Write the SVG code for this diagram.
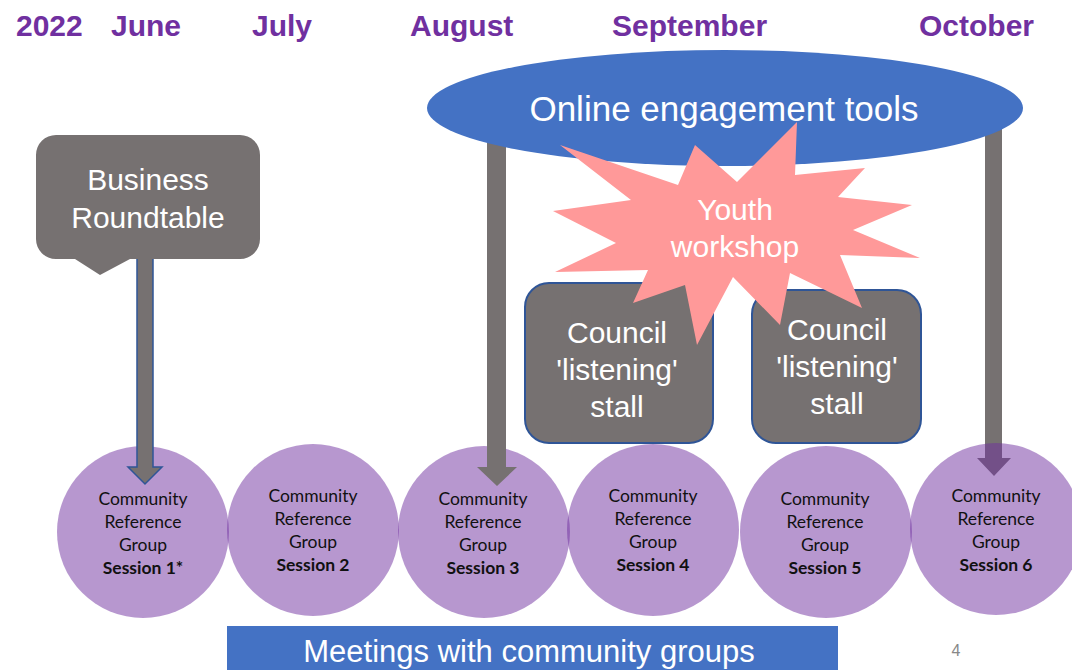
<svg xmlns="http://www.w3.org/2000/svg" width="1072" height="670" viewBox="0 0 1072 670">
  <style>
    .month { font-family: "Liberation Sans", Arial, sans-serif; font-weight: bold; font-size: 30px; fill: #7030A0; }
    .big { font-family: "Liberation Sans", Arial, sans-serif; font-size: 30px; fill: #FFFFFF; text-anchor: middle; }
    .crg { fill: #7030A0; fill-opacity: 0.5; }
    .crgt { font-family: Lato, "Open Sans", sans-serif; font-size: 17.5px; fill: #111111; text-anchor: middle; }
    .crgt .b { font-weight: bold; }
    .box { fill: #767171; stroke: #2F5597; stroke-width: 2; }
    .shaft { fill: #767171; }
  </style>

  <rect width="1072" height="670" fill="#FFFFFF"/>

  <!-- timeline header -->
  <g id="header">
    <text class="month" x="16" y="36">2022</text>
    <text class="month" x="111" y="36">June</text>
    <text class="month" x="252" y="36">July</text>
    <text class="month" x="410" y="36">August</text>
    <text class="month" x="612" y="36">September</text>
    <text class="month" x="919" y="36">October</text>
  </g>

  <!-- reference group sessions 1-5 -->
  <g id="session1">
    <circle class="crg" cx="143" cy="532" r="86"/>
    <text class="crgt"><tspan x="143" y="505">Community</tspan><tspan x="143" y="528">Reference</tspan><tspan x="143" y="551">Group</tspan><tspan class="b" x="143" y="574">Session 1*</tspan></text>
  </g>
  <g id="session2">
    <circle class="crg" cx="313" cy="530" r="86"/>
    <text class="crgt"><tspan x="313" y="502">Community</tspan><tspan x="313" y="525">Reference</tspan><tspan x="313" y="548">Group</tspan><tspan class="b" x="313" y="571">Session 2</tspan></text>
  </g>
  <g id="session3">
    <circle class="crg" cx="484" cy="532" r="86"/>
    <text class="crgt"><tspan x="483" y="505">Community</tspan><tspan x="483" y="528">Reference</tspan><tspan x="483" y="551">Group</tspan><tspan class="b" x="483" y="574">Session 3</tspan></text>
  </g>
  <g id="session4">
    <circle class="crg" cx="653" cy="530" r="86"/>
    <text class="crgt"><tspan x="653" y="502">Community</tspan><tspan x="653" y="525">Reference</tspan><tspan x="653" y="548">Group</tspan><tspan class="b" x="653" y="571">Session 4</tspan></text>
  </g>
  <g id="session5">
    <circle class="crg" cx="826" cy="532" r="86"/>
    <text class="crgt"><tspan x="825" y="505">Community</tspan><tspan x="825" y="528">Reference</tspan><tspan x="825" y="551">Group</tspan><tspan class="b" x="825" y="574">Session 5</tspan></text>
  </g>

  <!-- block arrows -->
  <g id="connectors">
    <polygon class="shaft" stroke="#2F5597" stroke-width="1.5" stroke-linejoin="miter"
             points="137,255 153,255 153,467 162,467 145,484 128,467 137,467"/>
    <polygon class="shaft" points="487,140 506,140 506,467 517,467 497,486 477,467 487,467"/>
    <polygon class="shaft" points="985,120 1002,120 1002,458 1011,458 994,476 977,458 985,458"/>
  </g>

  <g id="session6">
    <circle class="crg" cx="996" cy="529" r="86"/>
    <text class="crgt"><tspan x="996" y="502">Community</tspan><tspan x="996" y="525">Reference</tspan><tspan x="996" y="548">Group</tspan><tspan class="b" x="996" y="571">Session 6</tspan></text>
  </g>

  <g id="online-tools">
    <ellipse cx="725" cy="108" rx="298" ry="58" fill="#4472C4"/>
    <text class="big" x="724" y="121" style="font-size:35px">Online engagement tools</text>
  </g>

  <g id="business-roundtable">
    <path d="M56,135 H240 A20,20 0 0 1 260,155 V239 A20,20 0 0 1 240,259 H130 L100,275 L75,259 H56 A20,20 0 0 1 36,239 V155 A20,20 0 0 1 56,135 Z" fill="#767171"/>
    <text class="big"><tspan x="148" y="190">Business</tspan><tspan x="148" y="228">Roundtable</tspan></text>
  </g>

  <g id="stall1">
    <rect class="box" x="525" y="283" width="188" height="160" rx="24"/>
    <text class="big"><tspan x="617" y="343">Council</tspan><tspan x="617" y="380">'listening'</tspan><tspan x="617" y="417">stall</tspan></text>
  </g>
  <g id="stall2">
    <rect class="box" x="752" y="290" width="169" height="153" rx="24"/>
    <text class="big"><tspan x="837" y="340">Council</tspan><tspan x="837" y="377">'listening'</tspan><tspan x="837" y="414">stall</tspan></text>
  </g>

  <g id="youth-workshop">
    <polygon fill="#FF9999" points="560,145 678,185 695,145 737,182 797,122 795,175 865,168 838,197 912,205 853,230 920,258 840,255 862,308 790,273 780,325 733,277 697,345 685,285 633,303 648,270 555,272 616,243 553,211 631,200"/>
    <text class="big"><tspan x="735" y="220">Youth</tspan><tspan x="735" y="257">workshop</tspan></text>
  </g>

  <g id="community-meetings">
    <rect x="227" y="626" width="611" height="44" fill="#4472C4"/>
    <text class="big" x="529" y="662" style="font-size:31px">Meetings with community groups</text>
  </g>

  <text x="956" y="656" font-family="'Liberation Sans', Arial, sans-serif" font-size="16" fill="#888888" text-anchor="middle">4</text>
</svg>
